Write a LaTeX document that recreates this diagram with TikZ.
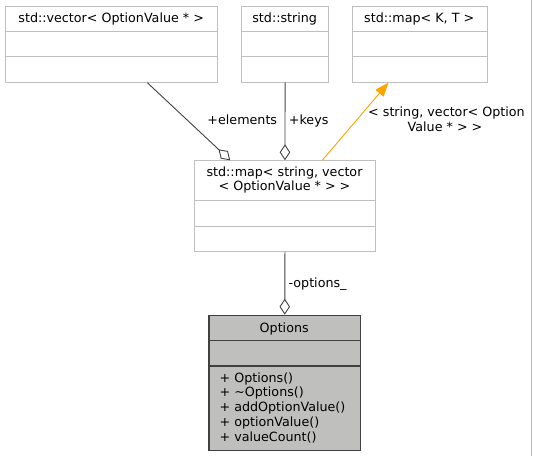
\documentclass[tikz,border=0pt]{standalone}
\usepackage{fontspec}
\setmainfont{DejaVu Sans}
\usetikzlibrary{arrows.meta,calc}
\definecolor{boxgray}{RGB}{191,191,191}
\definecolor{edgegray}{RGB}{64,64,64}
\definecolor{fillgray}{RGB}{191,191,189}
\definecolor{inhorange}{RGB}{255,165,0}
\tikzset{
  x=1bp, y=-1bp,
  every node/.style={font=\fontsize{12.7bp}{14.7bp}\selectfont, inner sep=0pt, text height=9.3bp, text depth=0pt},
  umlbox/.style={draw=boxgray, line width=0.9bp, fill=white, anchor=north west, text height=, text depth=},
  mainbox/.style={draw=edgegray, line width=1.2bp, fill=fillgray, anchor=north west, text height=, text depth=},
  divider/.style={draw=boxgray, line width=0.9bp},
  maindivider/.style={draw=edgegray, line width=1.2bp},
  assoc/.style={draw=edgegray, line width=0.9bp, -{Diamond[open, length=16bp, width=10.5bp, line width=0.9bp]}},
  inherit/.style={draw=inhorange, line width=0.9bp, -{Triangle[length=14bp, width=10.5bp]}, fill=inhorange},
  lbl/.style={anchor=center}
}
\begin{document}
\begin{tikzpicture}
\useasboundingbox (0,0) rectangle (533,456);
% boxes
\node[umlbox, minimum width=212.3bp, minimum height=76bp] (vec) at (5,5.7) {};
\node[umlbox, minimum width=87.3bp, minimum height=76bp] (str) at (241,5.7) {};
\node[umlbox, minimum width=135bp, minimum height=76bp] (mkt) at (351.7,5.7) {};
\node[umlbox, minimum width=180.4bp, minimum height=90.7bp] (map) at (194.3,160.3) {};
\node[mainbox, minimum width=151.7bp, minimum height=135.3bp] (opt) at (208.3,314.7) {};
% dividers
\foreach \b in {vec,str,mkt}{
  \draw[divider] ($(\b.north west)+(0,25.6)$) -- ($(\b.north east)+(0,25.6)$);
  \draw[divider] ($(\b.north west)+(0,51)$) -- ($(\b.north east)+(0,51)$);
}
\draw[divider] ($(map.north west)+(0,40.4)$) -- ($(map.north east)+(0,40.4)$);
\draw[divider] ($(map.north west)+(0,65.7)$) -- ($(map.north east)+(0,65.7)$);
\draw[maindivider] ($(opt.north west)+(0,26)$) -- ($(opt.north east)+(0,26)$);
\draw[maindivider] ($(opt.north west)+(0,51.3)$) -- ($(opt.north east)+(0,51.3)$);
% titles
\node[lbl] (vect) at (111.2,18.2) {std::vector< OptionValue * >};
\node[lbl] (strt) at (284.7,18.2) {std::string};
\node[lbl] (mktt) at (419.2,18.2) {std::map< K, T >};
\node[lbl] (mapt1) at (284.5,172) {std::map< string, vector};
\node[lbl] (mapt2) at (284.5,186.2) {< OptionValue * > >};
\node[lbl] (optt) at (284.2,327.5) {Options};
\node[anchor=west] (m1) at (219.4,377.5) {+ Options()};
\node[anchor=west] (m2) at (219.4,392.3) {+ \textasciitilde Options()};
\node[anchor=west] (m3) at (219.4,407) {+ addOptionValue()};
\node[anchor=west] (m4) at (219.4,421.8) {+ optionValue()};
\node[anchor=west] (m5) at (219.4,436.5) {+ valueCount()};
% connectors
\draw[assoc] ($(vec.south west)!0.667!(vec.south east)$) -- ($(map.north west)!0.198!(map.north east)$);
\draw[assoc] (str.south) -- (map.north);
\draw[inherit] ($(map.north west)!0.706!(map.north east)$) -- ($(mkt.south west)!0.271!(mkt.south east)$);
\draw[assoc] (map.south) -- (opt.north);
% labels
\node[anchor=east] (lel) at (277.3,120) {+elements};
\node[anchor=west] (lke) at (288.7,120) {+keys};
\node[lbl] (lin1) at (446.5,112) {< string, vector< Option};
\node[lbl] (lin2) at (445,127) {Value * > >};
\node[anchor=west] (lop) at (288.4,282.7) {-options\_};
% right edge line
\draw[draw=gray!55, line width=0.8bp] (531.7,0) -- (531.7,456);
\end{tikzpicture}
\end{document}
